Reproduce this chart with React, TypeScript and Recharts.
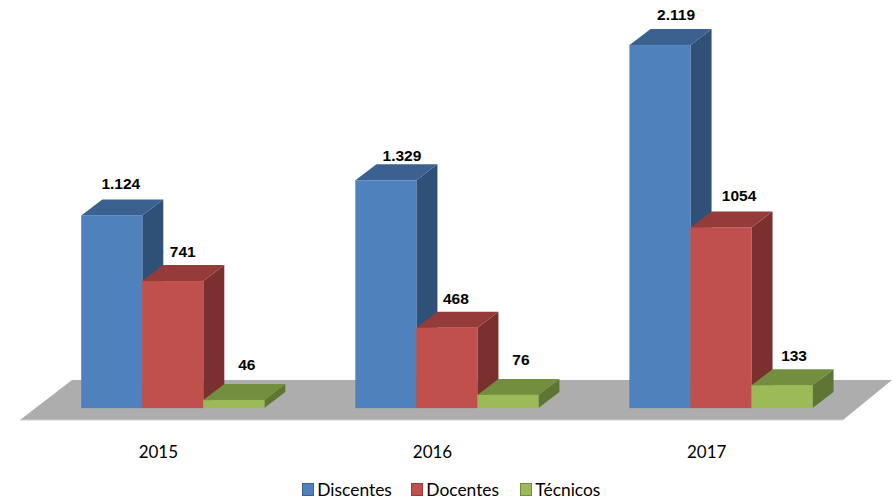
import React from "react";
import { ComposedChart, Bar, XAxis, YAxis, Legend, LabelList, Customized } from "recharts";

const years = ["2015", "2016", "2017"];
const discentes = [1124, 1329, 2119];
const docentes = [741, 468, 1054];
const tecnicos = [46, 76, 133];
const discentesLabels = ["1.124", "1.329", "2.119"];
const docentesLabels = ["741", "468", "1054"];
const tecnicosLabels = ["46", "76", "133"];

const rows = years.map((year, i) => ({
  year,
  Discentes: discentes[i],
  Docentes: docentes[i],
  Técnicos: tecnicos[i],
}));

const DX = 21;
const DY = 16;
const AXIS_FONT = "Lato, 'Open Sans', sans-serif";

const blue = { front: "#4F81BD", top: "#3B6190", side: "#2F5077" };
const red = { front: "#C0504D", top: "#953C3A", side: "#7A302E" };
const green = { front: "#9BBB59", top: "#748E40", side: "#5F7533" };

const box3d = (c: { front: string; top: string; side: string }) => (p: any) => {
  const { x, y, width: w, height: h } = p;
  return (
    <g>
      <polygon points={`${x + w},${y} ${x + w + DX},${y - DY} ${x + w + DX},${y + h - DY} ${x + w},${y + h}`} fill={c.side} />
      <polygon points={`${x},${y} ${x + DX},${y - DY} ${x + w + DX},${y - DY} ${x + w},${y}`} fill={c.top} />
      <rect x={x} y={y} width={w} height={h} fill={c.front} stroke={c.front} strokeOpacity={0.6} strokeWidth={0.5} />
    </g>
  );
};

const makeLabel = (texts: string[], offs: number[][]) => (p: any) => {
  const { x, y, width, index } = p;
  return (
    <text
      x={x + width / 2 + offs[index][0]}
      y={y + offs[index][1] - 1}
      textAnchor="middle"
      dominantBaseline="central"
      fontFamily="'Liberation Sans', Arial, sans-serif"
      fontWeight="bold"
      fontSize={15.5}
      fill="#000"
    >
      {texts[index]}
    </text>
  );
};

const Floor = () => (
  <g>
    <polygon points="20,420 72,380 892,380 843,420" fill="#ADADAD" />
    <line x1={20} y1={420} x2={843} y2={420} stroke="#CFCFCF" strokeWidth={1} />
  </g>
);

const legendItems = [
  { name: "Discentes", color: blue },
  { name: "Docentes", color: red },
  { name: "Técnicos", color: green },
];

const LegendRow = () => (
  <div style={{ display: "flex", alignItems: "center", height: 22, fontFamily: AXIS_FONT, fontSize: 17.4, color: "#000", paddingLeft: 266 }}>
    {legendItems.map((it) => (
      <span key={it.name} style={{ display: "inline-flex", alignItems: "center", width: 109, flex: "none" }}>
        <span style={{ width: 10, height: 11, background: it.color.front, border: `1px solid ${it.color.top}`, marginRight: 3 }} />
        {it.name}
      </span>
    ))}
  </div>
);

export default function App() {
  return (
    <div style={{ position: "absolute", left: 0, top: 0 }}>
      <ComposedChart
        width={892}
        height={503}
        data={rows}
        margin={{ top: 0, right: 33.3, bottom: 3, left: 36.3 }}
        barCategoryGap={45}
        barGap={0}
      >
        <Customized component={Floor} />
        <XAxis
          dataKey="year"
          axisLine={false}
          tickLine={false}
          height={70}
          tickMargin={32}
          tick={{ fill: "#000", fontSize: 17, fontFamily: AXIS_FONT, dx: -15 }}
        />
        <YAxis hide domain={[0, 2382]} />
        <Legend content={<LegendRow />} verticalAlign="bottom" />
        <Bar dataKey="Discentes" isAnimationActive={false} shape={box3d(blue)}>
          <LabelList content={makeLabel(discentesLabels, [[9, -31], [16, -24], [16, -30]])} />
        </Bar>
        <Bar dataKey="Docentes" isAnimationActive={false} shape={box3d(red)}>
          <LabelList content={makeLabel(docentesLabels, [[10, -29], [9, -28], [18, -31]])} />
        </Bar>
        <Bar dataKey="Técnicos" isAnimationActive={false} shape={box3d(green)}>
          <LabelList content={makeLabel(tecnicosLabels, [[13, -35], [13, -34], [12, -29]])} />
        </Bar>
      </ComposedChart>
    </div>
  );
}
